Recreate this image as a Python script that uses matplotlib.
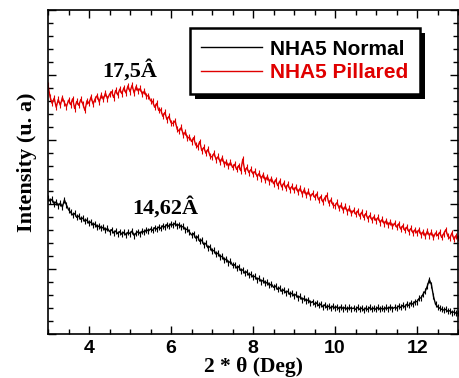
"""XRD patterns of NHA5 normal vs pillared clay (recreated)."""

import numpy as np
import matplotlib
matplotlib.use("Agg")
import matplotlib.pyplot as plt
from matplotlib.patches import Rectangle
from matplotlib.ticker import MultipleLocator

# 2-theta step scan, 3..13 deg, 0.05 deg per step
TWO_THETA_START = 3.0
TWO_THETA_STEP = 0.05

PILLARED = [
    3.84, 3.66, 3.56, 3.64, 3.50, 3.62, 3.53, 3.65, 3.57, 3.51,
    3.61, 3.54, 3.63, 3.48, 3.59, 3.53, 3.62, 3.55, 3.45, 3.60,
    3.56, 3.66, 3.55, 3.63, 3.68, 3.58, 3.69, 3.62, 3.72, 3.63,
    3.70, 3.74, 3.65, 3.76, 3.69, 3.78, 3.71, 3.80, 3.72, 3.83,
    3.74, 3.84, 3.72, 3.82, 3.75, 3.79, 3.70, 3.75, 3.67, 3.68,
    3.60, 3.59, 3.50, 3.56, 3.45, 3.46, 3.36, 3.42, 3.31, 3.36,
    3.26, 3.25, 3.29, 3.16, 3.13, 3.19, 3.07, 3.12, 3.02, 3.04,
    2.97, 3.03, 2.92, 2.89, 2.97, 2.83, 2.88, 2.79, 2.85, 2.75,
    2.73, 2.79, 2.69, 2.74, 2.65, 2.72, 2.62, 2.66, 2.59, 2.65,
    2.57, 2.62, 2.54, 2.60, 2.52, 2.70, 2.51, 2.57, 2.49, 2.54,
    2.47, 2.51, 2.43, 2.48, 2.40, 2.46, 2.37, 2.43, 2.35, 2.40,
    2.32, 2.38, 2.29, 2.36, 2.27, 2.33, 2.25, 2.31, 2.23, 2.28,
    2.22, 2.27, 2.19, 2.25, 2.16, 2.23, 2.14, 2.20, 2.12, 2.17,
    2.11, 2.16, 2.07, 2.12, 2.04, 2.10, 2.14, 2.02, 2.07, 1.99,
    1.98, 2.03, 1.94, 1.99, 1.91, 1.97, 1.89, 1.94, 1.86, 1.91,
    1.85, 1.90, 1.82, 1.88, 1.80, 1.86, 1.78, 1.83, 1.76, 1.81,
    1.75, 1.80, 1.72, 1.77, 1.70, 1.75, 1.68, 1.73, 1.66, 1.71,
    1.65, 1.70, 1.62, 1.67, 1.60, 1.65, 1.58, 1.63, 1.56, 1.61,
    1.56, 1.61, 1.53, 1.58, 1.51, 1.59, 1.52, 1.57, 1.49, 1.56,
    1.52, 1.57, 1.49, 1.55, 1.61, 1.51, 1.48, 1.56, 1.46, 1.52,
    1.48,
]

NORMAL = [
    2.10, 2.05, 2.08, 2.01, 2.04, 1.98, 2.02, 1.96, 2.07, 1.99,
    1.92, 1.88, 1.84, 1.86, 1.80, 1.82, 1.77, 1.79, 1.74, 1.76,
    1.71, 1.73, 1.68, 1.70, 1.65, 1.67, 1.63, 1.65, 1.60, 1.63,
    1.58, 1.61, 1.56, 1.59, 1.55, 1.58, 1.54, 1.57, 1.53, 1.57,
    1.55, 1.59, 1.52, 1.56, 1.58, 1.55, 1.59, 1.57, 1.61, 1.59,
    1.62, 1.60, 1.64, 1.62, 1.65, 1.63, 1.67, 1.65, 1.69, 1.66,
    1.70, 1.68, 1.71, 1.67, 1.69, 1.65, 1.66, 1.61, 1.62, 1.57,
    1.53, 1.55, 1.48, 1.50, 1.43, 1.45, 1.38, 1.40, 1.33, 1.35,
    1.28, 1.29, 1.23, 1.25, 1.19, 1.20, 1.14, 1.16, 1.10, 1.12,
    1.06, 1.07, 1.02, 1.04, 0.98, 0.99, 0.94, 0.96, 0.91, 0.92,
    0.88, 0.89, 0.84, 0.86, 0.81, 0.83, 0.78, 0.80, 0.75, 0.77,
    0.72, 0.74, 0.69, 0.71, 0.66, 0.68, 0.64, 0.66, 0.61, 0.63,
    0.59, 0.61, 0.56, 0.58, 0.53, 0.55, 0.51, 0.53, 0.48, 0.50,
    0.46, 0.48, 0.44, 0.46, 0.42, 0.45, 0.41, 0.43, 0.40, 0.43,
    0.40, 0.42, 0.39, 0.42, 0.39, 0.41, 0.38, 0.41, 0.39, 0.40,
    0.38, 0.41, 0.38, 0.40, 0.37, 0.40, 0.38, 0.41, 0.38, 0.40,
    0.38, 0.41, 0.38, 0.40, 0.38, 0.41, 0.39, 0.42, 0.39, 0.41,
    0.40, 0.43, 0.41, 0.44, 0.42, 0.46, 0.44, 0.48, 0.46, 0.50,
    0.50, 0.55, 0.56, 0.62, 0.66, 0.74, 0.84, 0.76, 0.58, 0.46,
    0.42, 0.40, 0.38, 0.37, 0.38, 0.35, 0.36, 0.33, 0.34, 0.32,
    0.32,
]

LABEL_NORMAL = "NHA5 Normal"
LABEL_PILLARED = "NHA5 Pillared"
PEAK_LABELS = ["17,5Â", "14,62Â"]
PEAK_POS = [(5.0, 3.97), (5.85, 1.86)]

RED = "#e00000"
SERIF = ["Liberation Serif", "DejaVu Serif"]
SANS = ["Liberation Sans", "DejaVu Sans"]


def main() -> None:
    x = TWO_THETA_START + TWO_THETA_STEP * np.arange(len(NORMAL))

    fig = plt.figure(figsize=(4.59, 3.78), dpi=100)
    ax = fig.add_axes([0.1046, 0.1164, 0.8934, 0.857])

    common = dict(linewidth=1.0, marker="|", markersize=4, markeredgewidth=0.8)
    ax.plot(x, NORMAL, color="black", label=LABEL_NORMAL, **common)
    ax.plot(x, PILLARED, color=RED, label=LABEL_PILLARED, **common)

    for txt, (px, py) in zip(PEAK_LABELS, PEAK_POS):
        ax.text(px, py, txt, ha="center", va="baseline", family=SERIF,
                fontweight="bold", fontsize=16)

    ax.set_xlim(3, 13)
    ax.set_ylim(0, 5)
    ax.xaxis.set_major_locator(MultipleLocator(2))
    ax.xaxis.set_minor_locator(MultipleLocator(0.5))
    ax.yaxis.set_major_locator(MultipleLocator(1))
    ax.yaxis.set_minor_locator(MultipleLocator(0.2))
    ax.tick_params(which="both", direction="in", top=True, right=True,
                   width=1.0, labelleft=False)
    ax.tick_params(which="major", length=6, labelsize=14, pad=4)
    ax.tick_params(which="minor", length=3.5)
    for lab in ax.get_xticklabels():
        lab.set_family(SANS)
        lab.set_fontweight("bold")
    for sp in ax.spines.values():
        sp.set_linewidth(1.2)

    ax.set_xlabel("2 * θ (Deg)", family=SERIF, fontweight="bold",
                  fontsize=15.5, labelpad=0)
    ax.set_ylabel("Intensity (u. a)", family=SERIF, fontweight="bold",
                  fontsize=16)
    ax.yaxis.set_label_coords(-0.028, 0.53)

    leg = ax.legend(loc="upper left", bbox_to_anchor=(0.346, 0.944),
                    borderaxespad=0, frameon=True, fancybox=False,
                    edgecolor="black", framealpha=1.0, handlelength=2.9,
                    handletextpad=0.4, borderpad=0.55, labelspacing=0.22,
                    prop={"family": SANS, "weight": "bold", "size": 15})
    leg.get_frame().set_linewidth(1.8)
    leg.get_texts()[1].set_color(RED)
    for h in leg.get_lines():
        h.set_marker("")
    leg.set_zorder(6)

    # drop shadow behind legend box
    fig.canvas.draw()
    bb = leg.get_window_extent().transformed(fig.transFigure.inverted())
    dx, dy = 5 / 459, 5 / 378
    shadow = Rectangle((bb.x0 + dx, bb.y0 - dy), bb.width, bb.height,
                       transform=fig.transFigure, facecolor="black",
                       edgecolor="none", zorder=5.5, clip_on=False)
    ax.add_artist(shadow)

    fig.savefig("out.png", dpi=100)
    plt.close(fig)


if __name__ == "__main__":
    main()
